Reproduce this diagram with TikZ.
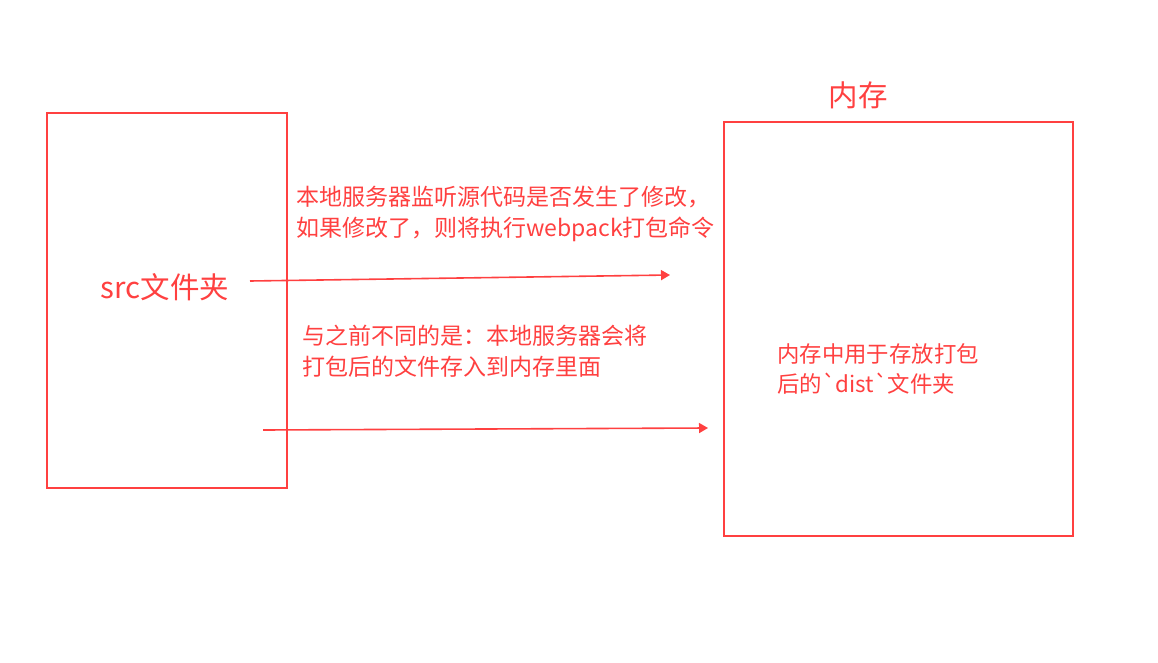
\documentclass[tikz,border=0pt]{standalone}
\usepackage{fontspec}
\newfontfamily\cjk{Noto Sans CJK SC}
\usepackage{tikz}
\usetikzlibrary{arrows.meta, positioning}
\definecolor{memred}{RGB}{255,64,64}

\begin{document}
\begin{tikzpicture}[
		x=1pt, y=-1pt,
		box/.style={draw=memred, line width=2.2pt, inner sep=0pt},
		note/.style={text=memred, inner sep=0pt, anchor=west, align=left,
			font=\cjk\fontsize{23}{31}\selectfont},
		big/.style={text=memred, inner sep=0pt, font=\cjk\fontsize{29.5}{34}\selectfont},
		flow/.style={-{Triangle[length=9pt, width=10pt]}, memred, line width=1.6pt},
		>=Stealth
	]
	% page size of the reference, in px (1 px = 1 pt here)
	\useasboundingbox (0,0) rectangle (1158,663);

	% source folder on disk
	\node[box, minimum width=240, minimum height=375] (srcbox) at (167,300.5) {};
	\node[big] (srclab) at (165,287) {src文件夹};

	% in-memory output
	\node[box, minimum width=349, minimum height=414] (membox) at (898.5,329) {};
	\node[big] (memlab) at (858,95) {内存};
	\node[note, font=\cjk\fontsize{22.4}{30}\selectfont] (memtxt) at (777,369)
		{内存中用于存放打包\\后的`dist`文件夹};

	% what the dev server does
	\node[note] (watch) at (296,214)
		{本地服务器监听源代码是否发生了修改，\\如果修改了，则将执行webpack打包命令};
	\node[note] (diff) at (302,351)
		{与之前不同的是：本地服务器会将\\打包后的文件存入到内存里面};

	\coordinate (w1) at (250,281);
	\coordinate (w2) at (670,275);
	\coordinate (d1) at (263,430);
	\coordinate (d2) at (708,428);
	\draw[flow] (w1) -- (w2);
	\draw[flow] (d1) -- (d2);
\end{tikzpicture}
\end{document}
